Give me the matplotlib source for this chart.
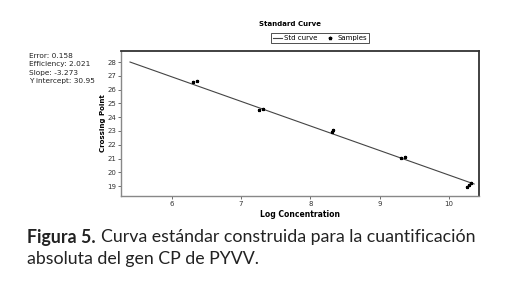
import numpy as np
import matplotlib.pyplot as plt
from matplotlib.lines import Line2D

# Standard curve (fitted line endpoints)
curve_x = [5.40, 10.36]
curve_y = [28.0, 19.15]

# Samples (log concentration, crossing point)
sample_x = [6.31, 6.36, 7.26, 7.31, 8.31, 8.33, 9.31, 9.36, 10.26, 10.29, 10.32]
sample_y = [26.55, 26.62, 24.49, 24.60, 22.90, 23.05, 21.07, 21.10, 18.95, 19.10, 19.20]

stats = ["Error: 0.158", "Efficiency: 2.021", "Slope: -3.273", "Y intercept: 30.95"]

fig = plt.figure(figsize=(5.19, 2.87), dpi=100)
ax = fig.add_axes([121/519, 1 - 196/287, 358/519, 145/287])

ax.plot(curve_x, curve_y, color='#444444', lw=0.8)
ax.plot(sample_x, sample_y, linestyle='none', marker='*', color='black', ms=2.2)

ax.set_xlim(5.27, 10.43)
ax.set_ylim(18.28, 28.8)
ax.set_xticks([6, 7, 8, 9, 10])
ax.set_yticks(range(19, 29))
ax.tick_params(labelsize=5, length=2, width=0.5, pad=1.5, colors='#333333')

for side in ['left', 'bottom']:
    ax.spines[side].set_color('#888888')
    ax.spines[side].set_linewidth(1.0)
for side in ['top', 'right']:
    ax.spines[side].set_color('#333333')
    ax.spines[side].set_linewidth(1.3)

ax.set_xlabel('Log Concentration', fontsize=5.5, fontweight='bold', labelpad=2)
ax.set_ylabel('Crossing Point', fontsize=5, fontweight='bold', labelpad=1)

fig.text(290/519, 1 - 24/287, 'Standard Curve', fontsize=5, fontweight='bold',
         ha='center', va='center')

handles = [Line2D([], [], color='#444444', lw=0.8),
           Line2D([], [], linestyle='none', marker='*', color='black', ms=2.5)]
leg = fig.legend(handles, ['Std curve', 'Samples'], loc='center',
                 bbox_to_anchor=(320/519, 1 - 38/287), ncol=2, fontsize=5,
                 frameon=True, fancybox=False, edgecolor='black',
                 handlelength=1.2, handletextpad=0.4, columnspacing=1.2,
                 borderpad=0.3)
leg.get_frame().set_linewidth(0.6)

fig.text(29/519, 1 - 53/287, "\n".join(stats), fontsize=5.3, va='top', ha='left',
         linespacing=1.45, color='#222222')

# caption
cap_font = 'Lato'
cap_size = 12.8
t = fig.text(27/519, 1 - 237/287, 'Figura 5.', fontsize=cap_size, fontweight='bold',
             family=cap_font, va='center', ha='left', color='#222222')
fig.canvas.draw()
bb = t.get_window_extent()
fig.text(bb.x1 / 519 + 5/519, 1 - 237/287,
         'Curva estándar construida para la cuantificación',
         fontsize=cap_size, family=cap_font, va='center', ha='left', color='#222222')
fig.text(27/519, 1 - 259/287, 'absoluta del gen CP de PYVV.', fontsize=cap_size,
         family=cap_font, va='center', ha='left', color='#222222')

fig.savefig('out.png', dpi=100)
